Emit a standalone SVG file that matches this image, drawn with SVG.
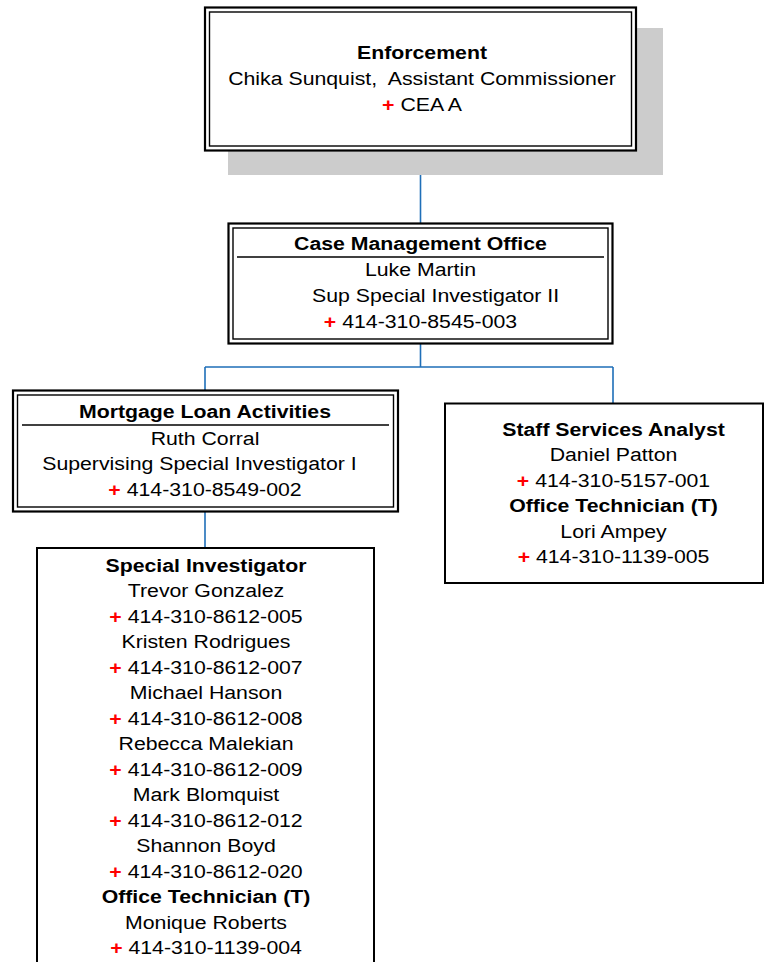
<svg xmlns="http://www.w3.org/2000/svg" width="765" height="962" viewBox="0 0 765 962">
  <style>
    .bg { fill: #ffffff; }
    .shadow { fill: #cccccc; }
    .outer { fill: #ffffff; stroke: #000000; stroke-width: 2.2; }
    .inner { fill: none; stroke: #000000; stroke-width: 1.4; }
    .single { fill: #ffffff; stroke: #000000; stroke-width: 2; }
    .rule { stroke: #000000; stroke-width: 1.4; }
    .conn { fill: none; stroke: #1f6fb8; stroke-width: 1.6; }
    text { font-family: "Liberation Sans", Arial, Helvetica, sans-serif; font-size: 19px; fill: #000000; text-anchor: middle; }
    .b { font-weight: bold; }
    .p { fill: #ff0000; font-weight: bold; }
  </style>

  <rect class="bg" x="0" y="0" width="765" height="962"/>

  <!-- reporting lines -->
  <g id="connectors">
    <path class="conn" d="M420.5 151 V223"/>
    <path class="conn" d="M420.5 344 V367 M205 367 H613 M205 367 V390 M613 367 V403"/>
    <path class="conn" d="M205 512 V548"/>
  </g>

  <!-- top node with drop shadow -->
  <g id="enforcement">
    <rect class="shadow" x="228" y="28" width="435" height="147"/>
    <rect class="outer" x="205" y="7.5" width="431" height="143"/>
    <rect class="inner" x="209.5" y="12" width="422" height="134"/>
    <g transform="translate(422,0) scale(1.12,1)">
      <text class="b" x="0" y="59">Enforcement</text>
      <text x="0" y="85.5" xml:space="preserve">Chika Sunquist,  Assistant Commissioner</text>
      <text x="0" y="111"><tspan class="p">+</tspan> CEA A</text>
    </g>
  </g>

  <g id="case-management">
    <rect class="outer" x="228.5" y="223.5" width="384" height="120"/>
    <rect class="inner" x="233" y="228" width="375" height="111"/>
    <line class="rule" x1="237" y1="257" x2="604" y2="257"/>
    <g transform="translate(420.5,0) scale(1.12,1)">
      <text class="b" x="0" y="250">Case Management Office</text>
      <text x="0" y="276.5">Luke Martin</text>
      <text x="13.5" y="302.5">Sup Special Investigator II</text>
      <text x="0" y="328">
        <tspan class="p">+</tspan> 414-310-8545-003</text>
    </g>
  </g>

  <g id="mortgage-loan">
    <rect class="outer" x="13" y="390.5" width="385" height="121"/>
    <rect class="inner" x="17.5" y="395" width="376" height="112"/>
    <line class="rule" x1="22" y1="425" x2="389" y2="425"/>
    <g transform="translate(205,0) scale(1.12,1)">
      <text class="b" x="0" y="418">Mortgage Loan Activities</text>
      <text x="0" y="445">Ruth Corral</text>
      <text x="-5" y="470.5">Supervising Special Investigator I</text>
      <text x="0" y="496.5"><tspan class="p">+</tspan> 414-310-8549-002</text>
    </g>
  </g>

  <g id="staff-services">
    <rect class="single" x="445" y="403.5" width="318" height="179.5"/>
    <g transform="translate(613.5,0) scale(1.12,1)">
      <text class="b" x="0" y="436">Staff Services Analyst</text>
      <text x="0" y="461.5">Daniel Patton</text>
      <text x="0" y="487"><tspan class="p">+</tspan> 414-310-5157-001</text>
      <text class="b" x="0" y="512.5">Office Technician (T)</text>
      <text x="0" y="538">Lori Ampey</text>
      <text x="0" y="563.5"><tspan class="p">+</tspan> 414-310-1139-005</text>
    </g>
  </g>

  <g id="special-investigator">
    <rect class="single" x="37" y="548" width="337" height="440"/>
    <g transform="translate(206,0) scale(1.12,1)">
      <text class="b" x="0" y="572">Special Investigator</text>
      <text x="0" y="597.5">Trevor Gonzalez</text>
      <text x="0" y="623"><tspan class="p">+</tspan> 414-310-8612-005</text>
      <text x="0" y="648.5">Kristen Rodrigues</text>
      <text x="0" y="674"><tspan class="p">+</tspan> 414-310-8612-007</text>
      <text x="0" y="699.5">Michael Hanson</text>
      <text x="0" y="725"><tspan class="p">+</tspan> 414-310-8612-008</text>
      <text x="0" y="750.5">Rebecca Malekian</text>
      <text x="0" y="776"><tspan class="p">+</tspan> 414-310-8612-009</text>
      <text x="0" y="801.5">Mark Blomquist</text>
      <text x="0" y="827"><tspan class="p">+</tspan> 414-310-8612-012</text>
      <text x="0" y="852.5">Shannon Boyd</text>
      <text x="0" y="878"><tspan class="p">+</tspan> 414-310-8612-020</text>
      <text class="b" x="0" y="903.5">Office Technician (T)</text>
      <text x="0" y="929">Monique Roberts</text>
      <text x="0" y="954.5"><tspan class="p">+</tspan> 414-310-1139-004</text>
    </g>
  </g>
</svg>
